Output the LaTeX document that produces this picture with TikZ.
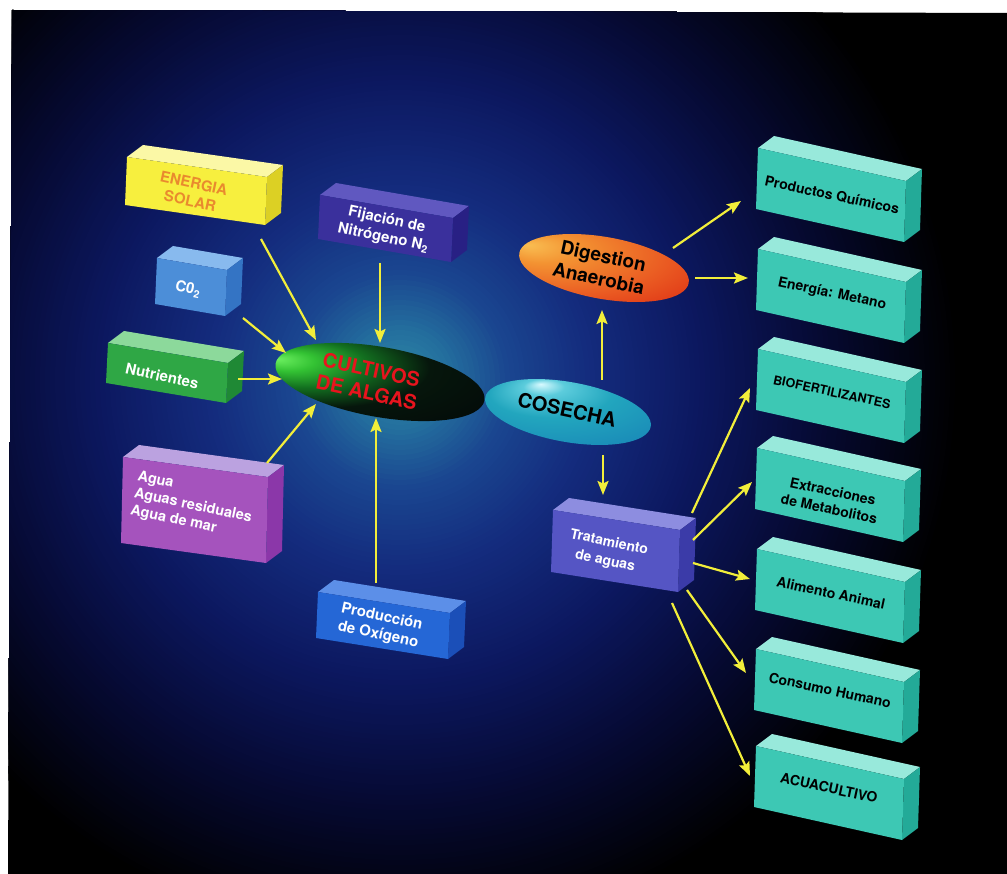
\documentclass[tikz,border=0pt]{standalone}
\usepackage{fontspec}
\setmainfont{TeX Gyre Heros}
\usetikzlibrary{shapes.geometric,arrows.meta}

\definecolor{arrowy}{HTML}{F2EE3A}
\definecolor{yfront}{HTML}{F7EF3E}\definecolor{ytop}{HTML}{FBF8A6}\definecolor{yside}{HTML}{DCD024}
\definecolor{solartext}{HTML}{E98A2E}
\definecolor{ffront}{HTML}{3A309C}\definecolor{ftop}{HTML}{6058C0}\definecolor{fside}{HTML}{282084}
\definecolor{cfront}{HTML}{4C8ED8}\definecolor{ctop}{HTML}{88BAEE}\definecolor{cside}{HTML}{3474C4}
\definecolor{nfront}{HTML}{2FA745}\definecolor{ntop}{HTML}{8CD99B}\definecolor{nside}{HTML}{1F8935}
\definecolor{afront}{HTML}{A553BD}\definecolor{atop}{HTML}{BBA2E0}\definecolor{aside}{HTML}{8B37A9}
\definecolor{pfront}{HTML}{2567D6}\definecolor{ptop}{HTML}{5C8FE8}\definecolor{pside}{HTML}{1B4FB8}
\definecolor{tfront}{HTML}{5555C4}\definecolor{ttop}{HTML}{8D8DE0}\definecolor{tside}{HTML}{3B3BA8}
\definecolor{qfront}{HTML}{3DC8B4}\definecolor{qtop}{HTML}{98E9DB}\definecolor{qside}{HTML}{23AA98}
\definecolor{cultred}{HTML}{E8141E}

\definecolor{g0}{HTML}{2E8AA6}\definecolor{g1}{HTML}{24709E}\definecolor{g2}{HTML}{1A4690}
\definecolor{g3}{HTML}{142C7E}\definecolor{g4}{HTML}{0C1860}\definecolor{g5}{HTML}{060A34}

\definecolor{c0}{HTML}{6CF060}\definecolor{c1}{HTML}{33C233}\definecolor{c2}{HTML}{137020}
\definecolor{c3}{HTML}{06160C}\definecolor{c4}{HTML}{020306}
\pgfdeclareradialshading{cultsh}{\pgfpoint{-24bp}{12bp}}{color(0bp)=(c0); color(6bp)=(c1); color(14bp)=(c2); color(24bp)=(c3); color(50bp)=(c4)}

\definecolor{k0}{HTML}{D8FAFF}\definecolor{k1}{HTML}{5CCCDC}\definecolor{k2}{HTML}{22A6BE}
\definecolor{k3}{HTML}{1A8CB8}\definecolor{k4}{HTML}{0E5878}\definecolor{k5}{HTML}{06283A}
\pgfdeclareradialshading{cossh}{\pgfpoint{-8bp}{18bp}}{color(0bp)=(k0); color(6bp)=(k1); color(18bp)=(k2); color(36bp)=(k3); color(46bp)=(k4); color(50bp)=(k5)}

\definecolor{d0}{HTML}{F9BE52}\definecolor{d1}{HTML}{F39332}\definecolor{d2}{HTML}{EA5A22}
\definecolor{d3}{HTML}{DC2A12}\definecolor{d4}{HTML}{B81A0C}
\pgfdeclareradialshading{digsh}{\pgfpoint{-22bp}{14bp}}{color(0bp)=(d0); color(10bp)=(d1); color(28bp)=(d2); color(44bp)=(d3); color(50bp)=(d4)}

% #1 TLx #2 TLy #3 TRx #4 TRy #5 height #6 colour prefix
\newcommand\drawprism[6]{%
  \fill[#6top] (#1,#2) -- (#3,#4) -- ++(16,-12) -- (#1+16,#2-12) -- cycle;
  \fill[#6side] (#3,#4) -- ++(16,-12) -- ++(-2,#5) -- ++(-16,12) -- cycle;
  \fill[#6front] (#1,#2) -- (#3,#4) -- ++(-2,#5) -- (#1-2,#2+#5) -- cycle;
}

\begin{document}
\begin{tikzpicture}[x=1pt,y=-1pt,
  lbl/.style={font=\bfseries\fontsize{15}{18}\selectfont, text=white, align=center, rotate=-12, inner sep=0pt},
  clbl/.style={font=\bfseries\fontsize{14}{18}\selectfont, text=black, align=center, rotate=-12, inner sep=0pt},
  etext/.style={font=\bfseries\fontsize{20}{23}\selectfont, align=center, rotate=-12, inner sep=0pt},
  oval/.style={ellipse, shade, inner sep=0pt, rotate=-10},
  arr/.style={draw=arrowy, line width=2.2pt, -{Stealth[length=14pt,width=11pt,inset=2.5pt]}}]
\useasboundingbox (0,0) rectangle (1007,874);
\fill[white] (0,0) rectangle (1007,874);
\begin{scope}
  \clip (12,10) -- (1007,13) -- (1007,874) -- (8,874) -- cycle;
  \fill[black] (0,0) rectangle (1007,874);
  \foreach \r in {560,555,...,5}{%
    \ifdim\r pt<50pt \pgfmathsetmacro\t{100*\r/50}\colorlet{gc}{g1!\t!g0}%
    \else\ifdim\r pt<110pt \pgfmathsetmacro\t{100*(\r-50)/60}\colorlet{gc}{g2!\t!g1}%
    \else\ifdim\r pt<190pt \pgfmathsetmacro\t{100*(\r-110)/80}\colorlet{gc}{g3!\t!g2}%
    \else\ifdim\r pt<300pt \pgfmathsetmacro\t{100*(\r-190)/110}\colorlet{gc}{g4!\t!g3}%
    \else\ifdim\r pt<420pt \pgfmathsetmacro\t{100*(\r-300)/120}\colorlet{gc}{g5!\t!g4}%
    \else \pgfmathsetmacro\t{100*(\r-420)/140}\colorlet{gc}{black!\t!g5}%
    \fi\fi\fi\fi\fi
    \fill[gc] (400,380) circle [radius=\r];
  }
\end{scope}

% input boxes
\drawprism{127}{157}{267}{177}{48}{y}
\node[lbl, text=solartext] (solar) at (192,192) {ENERGIA\\SOLAR};
\drawprism{320}{195}{453}{218}{44}{f}
\node[lbl] (fij) at (385,229) {Fijación de\\Nitrógeno N\textsubscript{2}};
\drawprism{157}{258}{227}{270}{46}{c}
\node[lbl] (co2) at (188,289) {C0\textsubscript{2}};
\drawprism{108}{343}{228}{363}{40}{n}
\node[lbl] (nutr) at (162,376) {Nutrientes};
\drawprism{123}{457}{268}{477}{86}{a}
\node[lbl, align=left, font=\bfseries\fontsize{14.5}{17.5}\selectfont] (agua) at (193,506) {Agua\\Aguas residuales\\Agua de mar};
\drawprism{318}{592}{450}{613}{46}{p}
\node[lbl] (oxi) at (380,626) {Producción\\de Oxígeno};
\drawprism{553}{510}{680}{530}{62}{t}
\node[lbl, font=\bfseries\fontsize{14}{19}\selectfont] (trat) at (607,552) {Tratamiento\\de aguas};

% product boxes
\drawprism{758}{148}{906}{181}{61}{q}
\node[clbl] (quim) at (832,195) {Productos Químicos};
\drawprism{758}{249}{906}{282}{61}{q}
\node[clbl] (metano) at (832,294) {Energía: Metano};
\drawprism{758}{349}{906}{382}{61}{q}
\node[clbl, font=\bfseries\fontsize{12.5}{15}\selectfont] (biof) at (832,392) {BIOFERTILIZANTES};
\drawprism{757}{448}{905}{481}{61}{q}
\node[clbl] (extr) at (831,500) {Extracciones\\de Metabolitos};
\drawprism{757}{549}{905}{582}{61}{q}
\node[clbl] (alim) at (831,593) {Alimento Animal};
\drawprism{756}{649}{904}{682}{61}{q}
\node[clbl] (cons) at (830,690) {Consumo Humano};
\drawprism{756}{746}{904}{779}{61}{q}
\node[clbl] (acua) at (829,788) {ACUACULTIVO};

% ovals
\node[oval, shading=cultsh, minimum width=212pt, minimum height=70pt] (cult) at (380,382) {};
\node[etext, text=cultred] (cultt) at (369,381) {CULTIVOS\\DE ALGAS};
\node[oval, shading=cossh, minimum width=168pt, minimum height=60pt] (cos) at (568,412) {};
\node[etext, text=black] (cost) at (567,410) {COSECHA};
\node[oval, shading=digsh, minimum width=172pt, minimum height=62pt] (dig) at (604,268) {};
\node[etext, text=black, font=\bfseries\fontsize{19}{23}\selectfont] (digt) at (601,267) {Digestion\\Anaerobia};

% arrow end points
\coordinate (solar-o) at (261,239); \coordinate (cult-1) at (316,340);
\coordinate (fij-o) at (380,263);   \coordinate (cult-2) at (380,343);
\coordinate (co2-o) at (243,318);   \coordinate (cult-3) at (286,353);
\coordinate (nutr-o) at (238,379);  \coordinate (cult-4) at (282,379);
\coordinate (agua-o) at (267,463);  \coordinate (cult-5) at (316,404);
\coordinate (oxi-o) at (376,583);   \coordinate (cult-6) at (376,418);
\coordinate (cos-up) at (602,380);  \coordinate (dig-in) at (602,310);
\coordinate (dig-o1) at (673,248);  \coordinate (quim-i) at (741,201);
\coordinate (dig-o2) at (695,278);  \coordinate (metano-i) at (748,278);
\coordinate (cos-dn) at (603,455);  \coordinate (trat-i) at (603,495);
\coordinate (trat-o1) at (692,513); \coordinate (biof-i) at (750,388);
\coordinate (trat-o2) at (693,540); \coordinate (extr-i) at (752,482);
\coordinate (trat-o3) at (693,563); \coordinate (alim-i) at (750,579);
\coordinate (trat-o4) at (687,590); \coordinate (cons-i) at (746,673);
\coordinate (trat-o5) at (672,603); \coordinate (acua-i) at (750,776);

\draw[arr] (solar-o) -- (cult-1);
\draw[arr] (fij-o) -- (cult-2);
\draw[arr] (co2-o) -- (cult-3);
\draw[arr] (nutr-o) -- (cult-4);
\draw[arr] (agua-o) -- (cult-5);
\draw[arr] (oxi-o) -- (cult-6);
\draw[arr] (cos-up) -- (dig-in);
\draw[arr] (dig-o1) -- (quim-i);
\draw[arr] (dig-o2) -- (metano-i);
\draw[arr] (cos-dn) -- (trat-i);
\draw[arr] (trat-o1) -- (biof-i);
\draw[arr] (trat-o2) -- (extr-i);
\draw[arr] (trat-o3) -- (alim-i);
\draw[arr] (trat-o4) -- (cons-i);
\draw[arr] (trat-o5) -- (acua-i);
\end{tikzpicture}
\end{document}
